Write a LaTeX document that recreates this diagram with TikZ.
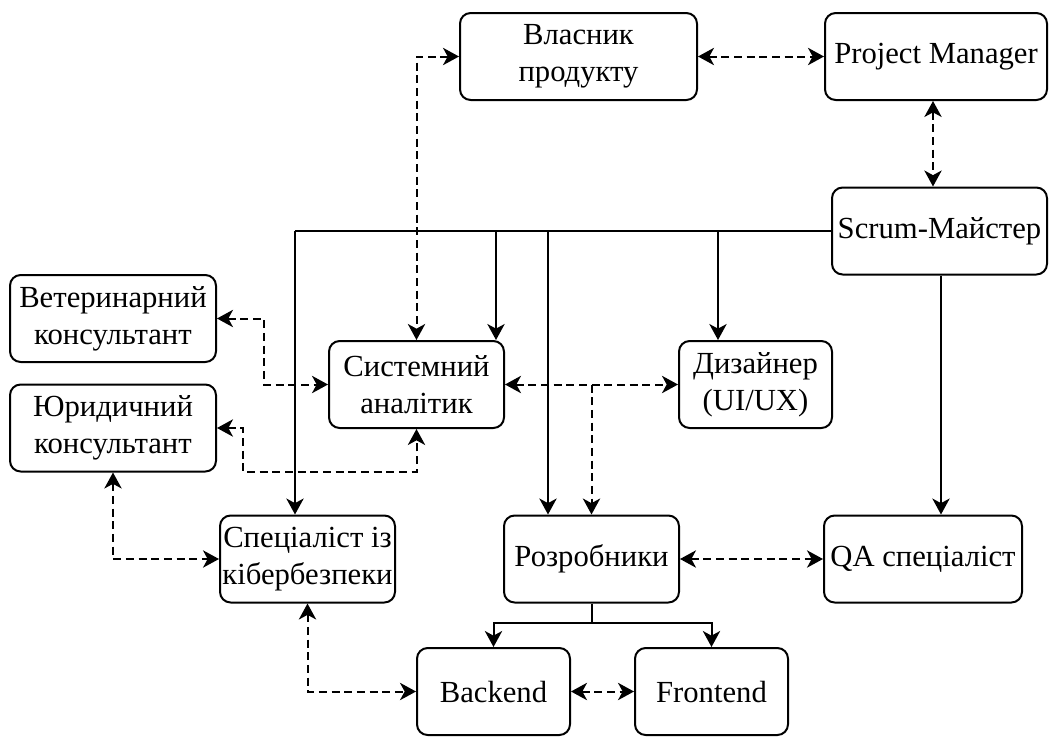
\documentclass[tikz,border=0pt]{standalone}
\usepackage{fontspec}
\setmainfont{Liberation Serif}
\usetikzlibrary{arrows.meta}

\begin{document}
\begin{tikzpicture}[x=0.75pt,y=-0.75pt,
  box/.style={draw, line width=1.5pt, rounded corners=8pt, align=center,
    inner sep=0pt, minimum height=65.25pt,
    font=\fontsize{23}{27.5}\selectfont},
  arr/.tip={Stealth[length=12pt,width=13pt,inset=3.5pt]},
  sl/.style={line width=1.5pt, -arr},
  dl/.style={line width=1.5pt, dash pattern=on 6pt off 3.5pt, arr-arr},
  dd/.style={line width=1.5pt, dash pattern=on 6pt off 3.5pt, -arr}
]
\useasboundingbox (0,0) rectangle (1049,736);

% boxes
\node[box, minimum width=177.75pt] (own)   at (578.5,56.5) {Власник\\продукту};
\node[box, minimum width=166.5pt]  (pm)    at (936,56.5)   {Project Manager};
\node[box, minimum width=161.25pt] (scrum) at (939.5,231)  {Scrum-Майстер};
\node[box, minimum width=154.5pt]  (vet)   at (113,318.5)  {Ветеринарний\\консультант};
\node[box, minimum width=154.5pt]  (jur)   at (113,428)    {Юридичний\\консультант};
\node[box, minimum width=131.25pt] (sys)   at (416.5,384.5){Системний\\аналітик};
\node[box, minimum width=114.75pt] (diz)   at (755.5,384.5){Дизайнер\\(UI/UX)};
\node[box, minimum width=131.25pt] (spec)  at (307.5,559)  {Спеціаліст із\\кібербезпеки};
\node[box, minimum width=131.25pt] (dev)   at (591.5,559)  {Розробники};
\node[box, minimum width=148.5pt]  (qa)    at (923,559)    {QA спеціаліст};
\node[box, minimum width=114.75pt] (back)  at (493.5,691.5){Backend};
\node[box, minimum width=114.75pt] (front) at (711.5,691.5){Frontend};

% bend points
\coordinate (bus) at (295,231);
\coordinate (t1)  at (496,231);
\coordinate (t2)  at (548,231);
\coordinate (t3)  at (718,231);
\coordinate (t4)  at (941,300);
\coordinate (pd)  at (933,0);
\coordinate (jb)  at (416.5,472);
\coordinate (br)  at (591.5,384.5);
\coordinate (dj)  at (591.5,623);

% solid links from the Scrum master
\draw[line width=1.5pt] (scrum.west) -- (bus);
\draw[sl] (bus) -- (spec.north -| bus);
\draw[sl] (t1) -- (sys.north -| t1);
\draw[sl] (t2) -- (dev.north -| t2);
\draw[sl] (t3) -- (diz.north -| t3);
\draw[sl] (scrum.south -| t4) -- (qa.north -| t4);

% developers split
\draw[line width=1.5pt] (dev.south) -- (dj);
\draw[sl] (dj) -| (back.north);
\draw[sl] (dj) -| (front.north);

% dashed two-way links
\draw[dl] (own.east) -- (pm.west);
\draw[dl] (pm.south -| pd) -- (scrum.north -| pd);
\draw[dl] (own.west) -| (sys.north);
\draw[dl] (vet.east) -- ++(47,0) |- (sys.west);
\draw[dl] (jur.east) -- ++(26,0) |- (jb) -- (sys.south);
\draw[dl] (sys.east) -- (diz.west);
\draw[dd] (br) -- (dev.north);
\draw[dl] (jur.south) |- (spec.west);
\draw[dl] (spec.south) |- (back.west);
\draw[dl] (dev.east) -- (qa.west);
\draw[dl] (back.east) -- (front.west);
\end{tikzpicture}
\end{document}
